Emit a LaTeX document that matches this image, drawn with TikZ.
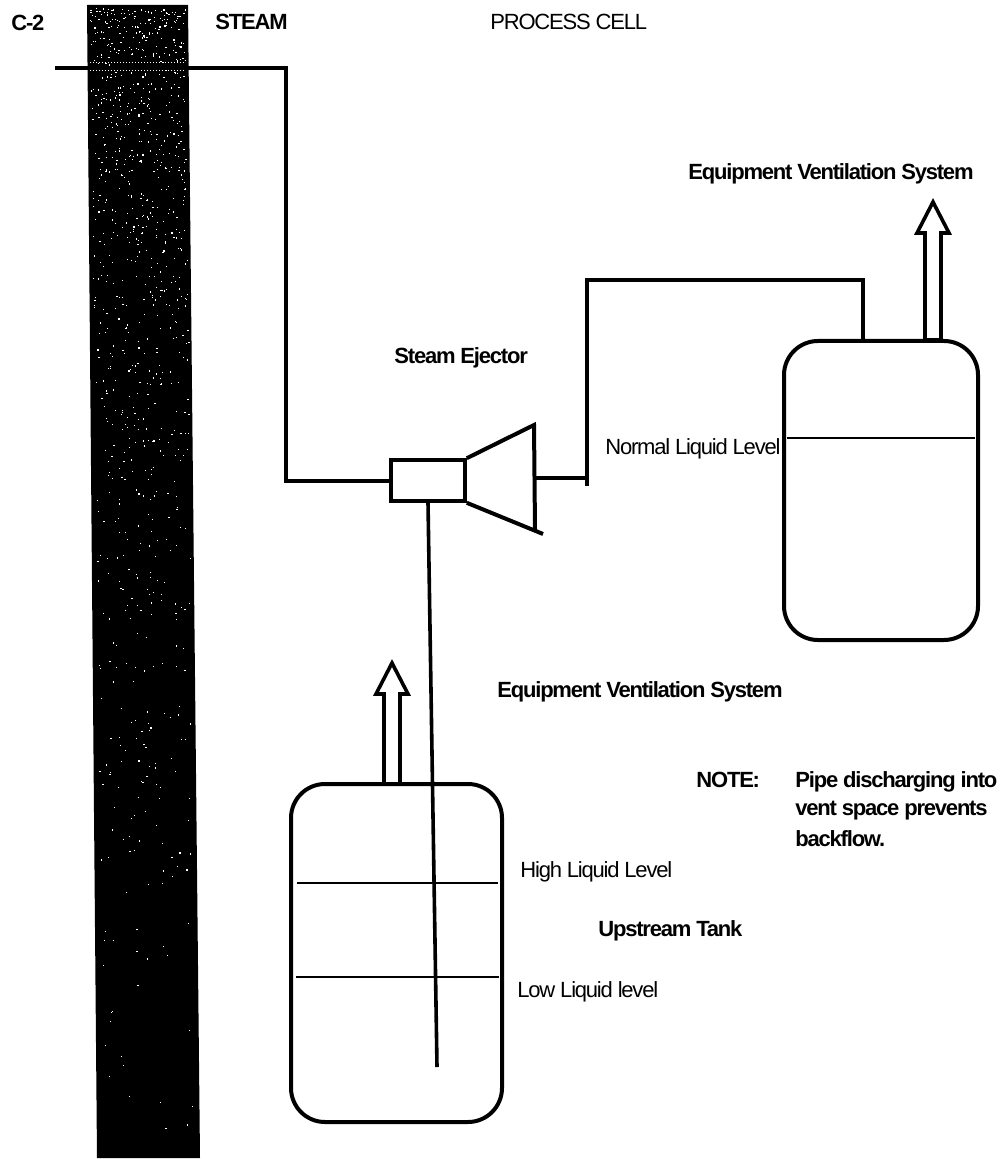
\documentclass[tikz,border=0pt]{standalone}
\usepackage{fontspec}
\setmainfont{Liberation Sans}
\newfontfamily\labelfont[LetterSpace=-5.5]{Liberation Sans}
\newfontfamily\notefont[LetterSpace=-5.5]{Liberation Sans Bold}
\tikzset{
    pipe/.style={line width=2pt,line join=miter},
    thinpipe/.style={line width=1.8pt},
    level/.style={line width=0.7pt},
    tank/.style={draw,line width=2pt,rounded corners=17pt,inner sep=0pt,fill=white},
    plainlabel/.style={anchor=base west,inner sep=0pt,font=\fontsize{11}{13}\labelfont},
    notelabel/.style={anchor=base west,inner sep=0pt,font=\fontsize{11}{13}\notefont}
}
\begin{document}
\begin{tikzpicture}[x=0.5pt,y=-0.5pt]
    \useasboundingbox (0,0) rectangle (1000,1159);

    % muro de la celda
    \fill[black] (87,5) -- (188,5) -- (200,1158) -- (97,1158) -- cycle;
    \pgfmathsetseed{11}
    \foreach \n in {1,...,900} {
        \pgfmathsetmacro{\doty}{8+1145*rnd*rnd}
        \pgfmathsetmacro{\dotx}{90+\doty*0.0100+95*rnd}
        \fill[white] (\dotx,\doty) rectangle ++(1.2,1.2);
    }
    \draw[white,line width=0.5pt,densely dotted] (90,63) -- (186,63);
    \draw[white,line width=0.5pt,densely dotted] (90,71) -- (186,71);

    % tanques
    \node[tank,minimum width=105.5pt,minimum height=169pt] (lowertank) at (396.5,953) {};
    \node[tank,minimum width=97pt,minimum height=149.5pt] (uppertank) at (881,490.5) {};

    % niveles de liquido
    \coordinate (highlevel) at (297,883);
    \coordinate (lowlevel) at (296,977);
    \coordinate (normallevel) at (787,438);
    \draw[level] (highlevel) -- (498,883);
    \draw[level] (lowlevel) -- (499,977);
    \draw[level] (normallevel) -- (975,438);

    % eyector
    \node[draw,line width=1.8pt,minimum width=37pt,minimum height=20.5pt,inner sep=0pt] (ejector) at (428,480.5) {};
    \coordinate (conetop) at (534,425);
    \coordinate (conebottom) at (543,534);
    \coordinate (coneedge) at (535,530);
    \coordinate (coneout) at (535,478);
    \draw[pipe] (ejector.north east) -- (conetop) -- (coneedge);
    \draw[pipe] (ejector.south east) -- (conebottom);

    % vapor
    \coordinate (steamin) at (55,68);
    \coordinate (steambend) at (286,68);
    \draw[pipe] (steamin) -- (steambend) |- (ejector.west);

    % descarga hacia el tanque
    \coordinate (riserfoot) at (587,486);
    \coordinate (riserjoin) at (587,478);
    \coordinate (ventbend) at (863,280);
    \draw[pipe] (coneout) -- (riserjoin);
    \draw[pipe] (riserfoot) |- (ventbend) -- (ventbend |- uppertank.north);

    % tubo de succion
    \coordinate (dipend) at (437,1067);
    \draw[thinpipe] (ejector.south) -- (dipend);

    % flechas de ventilacion
    \foreach \tipx/\tipy/\foot in {392/663/784,933/202/340} {
        \draw[thinpipe,line join=miter,fill=white] (\tipx,\tipy) -- (\tipx+16,\tipy+31) -- (\tipx+8,\tipy+31)
            -- (\tipx+8,\foot) -- (\tipx-8,\foot) -- (\tipx-8,\tipy+31) -- (\tipx-16,\tipy+31) -- cycle;
    }

    % rotulos
    \node[notelabel] (walllabel) at (11,31) {C-2};
    \node[notelabel] (steamlabel) at (215,30) {STEAM};
    \node[plainlabel] (celllabel) at (490,30) {PROCESS CELL};
    \node[notelabel] (ventupper) at (688,180) {Equipment Ventilation System};
    \node[notelabel] (ejectorlabel) at (394,364) {Steam Ejector};
    \node[plainlabel] (normallabel) at (605,454) {Normal Liquid Level};
    \node[notelabel] (ventlower) at (497,697) {Equipment Ventilation System};
    \node[notelabel] (notehead) at (696,787) {NOTE:};
    \node[notelabel] (noteone) at (795,787) {Pipe discharging into};
    \node[notelabel] (notetwo) at (795,815) {vent space prevents};
    \node[notelabel] (notethree) at (795,846) {backflow.};
    \node[plainlabel] (highlabel) at (520,877) {High Liquid Level};
    \node[notelabel] (tanklabel) at (598,936) {Upstream Tank};
    \node[plainlabel] (lowlabel) at (517,997) {Low Liquid level};

\end{tikzpicture}
\end{document}
